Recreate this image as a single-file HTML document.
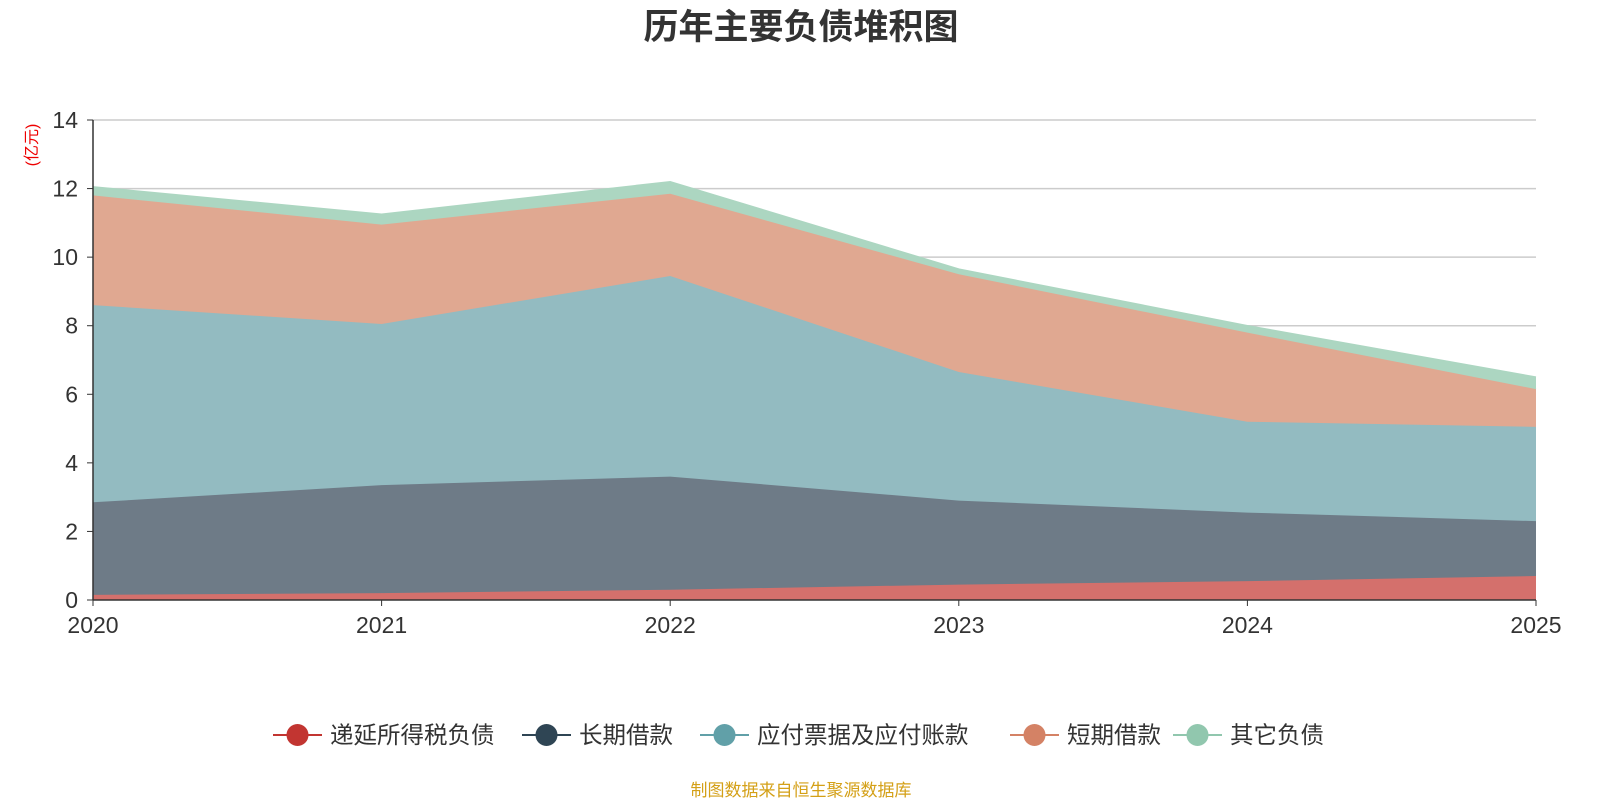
<!DOCTYPE html>
<html><head><meta charset="utf-8">
<style>
body{margin:0;background:#fff;width:1600px;height:800px;overflow:hidden;font-family:"Liberation Sans","Noto Sans CJK SC",sans-serif;}
</style></head>
<body>
<svg id="c" width="1600" height="800"></svg>
<script>
const years=['2020','2021','2022','2023','2024','2025'];
const deferredTax=[0.15,0.2,0.3,0.45,0.55,0.7];
const longLoan=[2.7,3.15,3.3,2.45,2.0,1.6];
const payables=[5.75,4.7,5.85,3.75,2.65,2.75];
const shortLoan=[3.2,2.9,2.4,2.85,2.6,1.1];
const otherDebt=[0.25,0.3,0.35,0.15,0.2,0.35];
const yTicks=[0,2,4,6,8,10,12,14];
const seriesNames=['递延所得税负债','长期借款','应付票据及应付账款','短期借款','其它负债'];
const lineColors=['#c23531','#2f4554','#61a0a8','#d48265','#91c7ae'];
const fillColors=['#d4706c','#6e7b87','#93bbc1','#e0a891','#acd6c1'];
const NS='http://www.w3.org/2000/svg';
const svg=document.getElementById('c');
const x0=93,x1=1536,y0=600,y14=120;
const xs=i=>x0+(x1-x0)*i/(years.length-1);
const ys=v=>y0-(y0-y14)*v/14;
function mk(t,a,p){const e=document.createElementNS(NS,t);for(const k in a)e.setAttribute(k,a[k]);(p||svg).appendChild(e);return e;}
let t=mk('text',{x:801,y:39,'text-anchor':'middle','font-size':35,'font-weight':'bold',fill:'#333'});t.textContent='历年主要负债堆积图';


t=mk('text',{x:37,y:145,'text-anchor':'middle','font-size':16,fill:'#e00',transform:'rotate(-90 37 145)'});t.textContent='(亿元)';


yTicks.forEach(v=>{
 if(v>0){const g=mk('line',{x1:x0,x2:x1,y1:ys(v),y2:ys(v),stroke:'#ccc','stroke-width':1.5});
 
 }
 mk('line',{x1:x0-6,x2:x0,y1:ys(v),y2:ys(v),stroke:'#333'});
 const l=mk('text',{x:x0-15,y:ys(v)+8,'text-anchor':'end','font-size':23,fill:'#333'});l.textContent=v;
 
 
});
const all=[deferredTax,longLoan,payables,shortLoan,otherDebt];
let base=years.map(()=>0);
all.forEach((s,si)=>{
 const top=base.map((b,i)=>b+s[i]);
 let d='M'+top.map((v,i)=>xs(i)+','+ys(v)).join('L');
 for(let i=years.length-1;i>=0;i--)d+='L'+xs(i)+','+ys(base[i]);
 const p=mk('path',{d:d+'Z',fill:fillColors[si]});
 
 
 mk('polyline',{points:top.map((v,i)=>xs(i)+','+ys(v)).join(' '),fill:'none',stroke:fillColors[si],'stroke-width':1.5});
 base=top;
});
mk('line',{x1:x0,x2:x0,y1:y14,y2:y0,stroke:'#333','stroke-width':1.5});
mk('line',{x1:x0,x2:x1,y1:y0,y2:y0,stroke:'#333','stroke-width':1.5});
years.forEach((yr,i)=>{
 mk('line',{x1:xs(i),x2:xs(i),y1:y0,y2:y0+6,stroke:'#333'});
 const l=mk('text',{x:xs(i),y:y0+33,'text-anchor':'middle','font-size':23,fill:'#333'});l.textContent=yr;
 
 
});
const lx=[273,522,700,1010,1173];
seriesNames.forEach((n,i)=>{
 const g=mk('g',{});
 
 
 mk('line',{x1:lx[i],x2:lx[i]+49,y1:735,y2:735,stroke:lineColors[i],'stroke-width':2},g);
 mk('circle',{cx:lx[i]+24.5,cy:735,r:11,fill:lineColors[i]},g);
 const l=mk('text',{x:lx[i]+57,y:743,'font-size':23.5,fill:'#333'},g);l.textContent=n;
});
t=mk('text',{x:801,y:796,'text-anchor':'middle','font-size':17,fill:'#d4a017'});t.textContent='制图数据来自恒生聚源数据库';


</script>
</body></html>
